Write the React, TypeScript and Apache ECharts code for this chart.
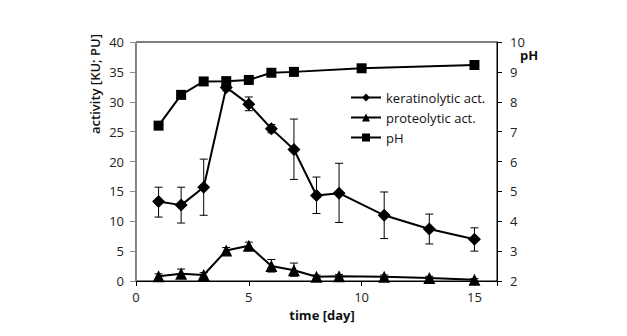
import React, { useEffect, useRef } from "react";
import * as echarts from "echarts";

const kerDays = [1, 2, 3, 4, 5, 6, 7, 8, 9, 11, 13, 15];
const kerValues = [13.3, 12.7, 15.7, 32.4, 29.6, 25.5, 22.0, 14.3, 14.7, 11.0, 8.7, 7.0];
const kerErrLow = [10.7, 9.7, 11.0, 31.8, 28.5, 24.8, 17.0, 11.3, 9.8, 7.1, 6.2, 5.0];
const kerErrHigh = [15.7, 15.7, 20.4, 33.0, 30.8, 26.2, 27.1, 17.4, 19.7, 14.9, 11.2, 8.9];

const proDays = [1, 2, 3, 4, 5, 6, 7, 8, 9, 11, 13, 15];
const proValues = [0.8, 1.2, 1.0, 5.1, 5.9, 2.5, 1.8, 0.7, 0.8, 0.7, 0.5, 0.2];
const proErrLow = [0.4, 0.5, 0.6, 4.6, 5.3, 1.5, 0.8, 0.4, 0.5, 0.4, 0.2, 0.0];
const proErrHigh = [1.2, 2.0, 1.4, 5.6, 6.5, 3.6, 3.0, 1.0, 1.1, 1.0, 0.8, 0.4];

const phDays = [1, 2, 3, 4, 5, 6, 7, 10, 15];
const phValues = [7.2, 8.23, 8.68, 8.69, 8.73, 8.97, 9.0, 9.12, 9.23];

const FONT = "'Open Sans', 'Noto Sans', sans-serif";

export default function App() {
  const ref = useRef<HTMLDivElement>(null);
  useEffect(() => {
    if (!ref.current) return;
    const chart = echarts.init(ref.current, undefined, { renderer: "svg" });
    const errData = [
      ...kerDays.map((d, i) => [d, kerErrLow[i], kerErrHigh[i]]),
      ...proDays.map((d, i) => [d, proErrLow[i], proErrHigh[i]]),
    ];
    const axisLabelStyle = { color: "#222", fontSize: 13, fontFamily: FONT };
    chart.setOption({
      animation: false,
      backgroundColor: "#fff",
      grid: {
        left: 128,
        right: 130,
        top: 34,
        bottom: 55,
        show: true,
        borderColor: "#000",
        borderWidth: 1,
      },
      legend: {
        orient: "vertical",
        left: 337,
        top: 78,
        itemWidth: 30,
        itemHeight: 10,
        itemGap: 7,
        textStyle: { color: "#111", fontSize: 13, fontFamily: FONT },
        data: ["keratinolytic act.", "proteolytic act.", "pH"],
      },
      xAxis: {
        type: "value",
        min: 0,
        max: 16,
        interval: 5,
        splitLine: { show: false },
        axisLine: { lineStyle: { color: "#000", width: 1 } },
        axisTick: { length: 5, lineStyle: { color: "#000" } },
        axisLabel: {
          ...axisLabelStyle,
          margin: 9,
          formatter: (v: number) => (v % 5 === 0 ? String(v) : ""),
        },
      },
      yAxis: [
        {
          type: "value",
          min: 0,
          max: 40,
          interval: 5,
          splitLine: { show: false },
          axisLine: { show: true, lineStyle: { color: "#888", width: 1 } },
          axisTick: { show: true, length: 6, lineStyle: { color: "#888" } },
          axisLabel: { ...axisLabelStyle, margin: 12 },
        },
        {
          type: "value",
          min: 2,
          max: 10,
          interval: 1,
          position: "right",
          splitLine: { show: false },
          axisLine: { show: true, lineStyle: { color: "#000", width: 1 } },
          axisTick: { show: true, length: 5, lineStyle: { color: "#000" } },
          axisLabel: { ...axisLabelStyle, margin: 13 },
        },
      ],
      graphic: [
        {
          type: "text",
          x: 87,
          y: 76,
          rotation: Math.PI / 2,
          style: {
            text: "activity [KU; PU]",
            fill: "#111",
            fontSize: 13,
            fontWeight: 600,
            fontFamily: FONT,
            align: "center",
            verticalAlign: "middle",
          },
        },
        {
          type: "text",
          x: 314,
          y: 307,
          style: {
            text: "time [day]",
            fill: "#111",
            fontSize: 13,
            fontWeight: "bold",
            fontFamily: FONT,
            align: "center",
            verticalAlign: "middle",
          },
        },
        {
          type: "text",
          x: 521,
          y: 47,
          style: {
            text: "pH",
            fill: "#111",
            fontSize: 13,
            fontWeight: "bold",
            fontFamily: FONT,
            align: "center",
            verticalAlign: "middle",
          },
        },
      ],
      series: [
        {
          type: "custom",
          name: "err",
          yAxisIndex: 0,
          silent: true,
          z: 1,
          data: errData,
          renderItem: (params: any, api: any) => {
            const x = api.value(0);
            const lo = api.coord([x, api.value(1)]);
            const hi = api.coord([x, api.value(2)]);
            const w = 4;
            const style = { stroke: "#000", lineWidth: 1 };
            return {
              type: "group",
              children: [
                { type: "line", shape: { x1: lo[0], y1: lo[1], x2: hi[0], y2: hi[1] }, style },
                { type: "line", shape: { x1: lo[0] - w, y1: lo[1], x2: lo[0] + w, y2: lo[1] }, style },
                { type: "line", shape: { x1: hi[0] - w, y1: hi[1], x2: hi[0] + w, y2: hi[1] }, style },
              ],
            };
          },
        },
        {
          type: "line",
          name: "keratinolytic act.",
          yAxisIndex: 0,
          z: 3,
          data: kerDays.map((d, i) => [d, kerValues[i]]),
          symbol: "diamond",
          symbolSize: 13,
          lineStyle: { color: "#000", width: 2 },
          itemStyle: { color: "#000" },
        },
        {
          type: "line",
          name: "proteolytic act.",
          yAxisIndex: 0,
          z: 3,
          data: proDays.map((d, i) => [d, proValues[i]]),
          symbol: "triangle",
          symbolSize: 12,
          lineStyle: { color: "#000", width: 2 },
          itemStyle: { color: "#000" },
        },
        {
          type: "line",
          name: "pH",
          yAxisIndex: 1,
          z: 3,
          data: phDays.map((d, i) => [d, phValues[i]]),
          symbol: "rect",
          symbolSize: 10,
          lineStyle: { color: "#000", width: 2 },
          itemStyle: { color: "#000" },
        },
      ],
    });
    return () => chart.dispose();
  }, []);
  return <div ref={ref} style={{ width: 619, height: 328 }} />;
}
